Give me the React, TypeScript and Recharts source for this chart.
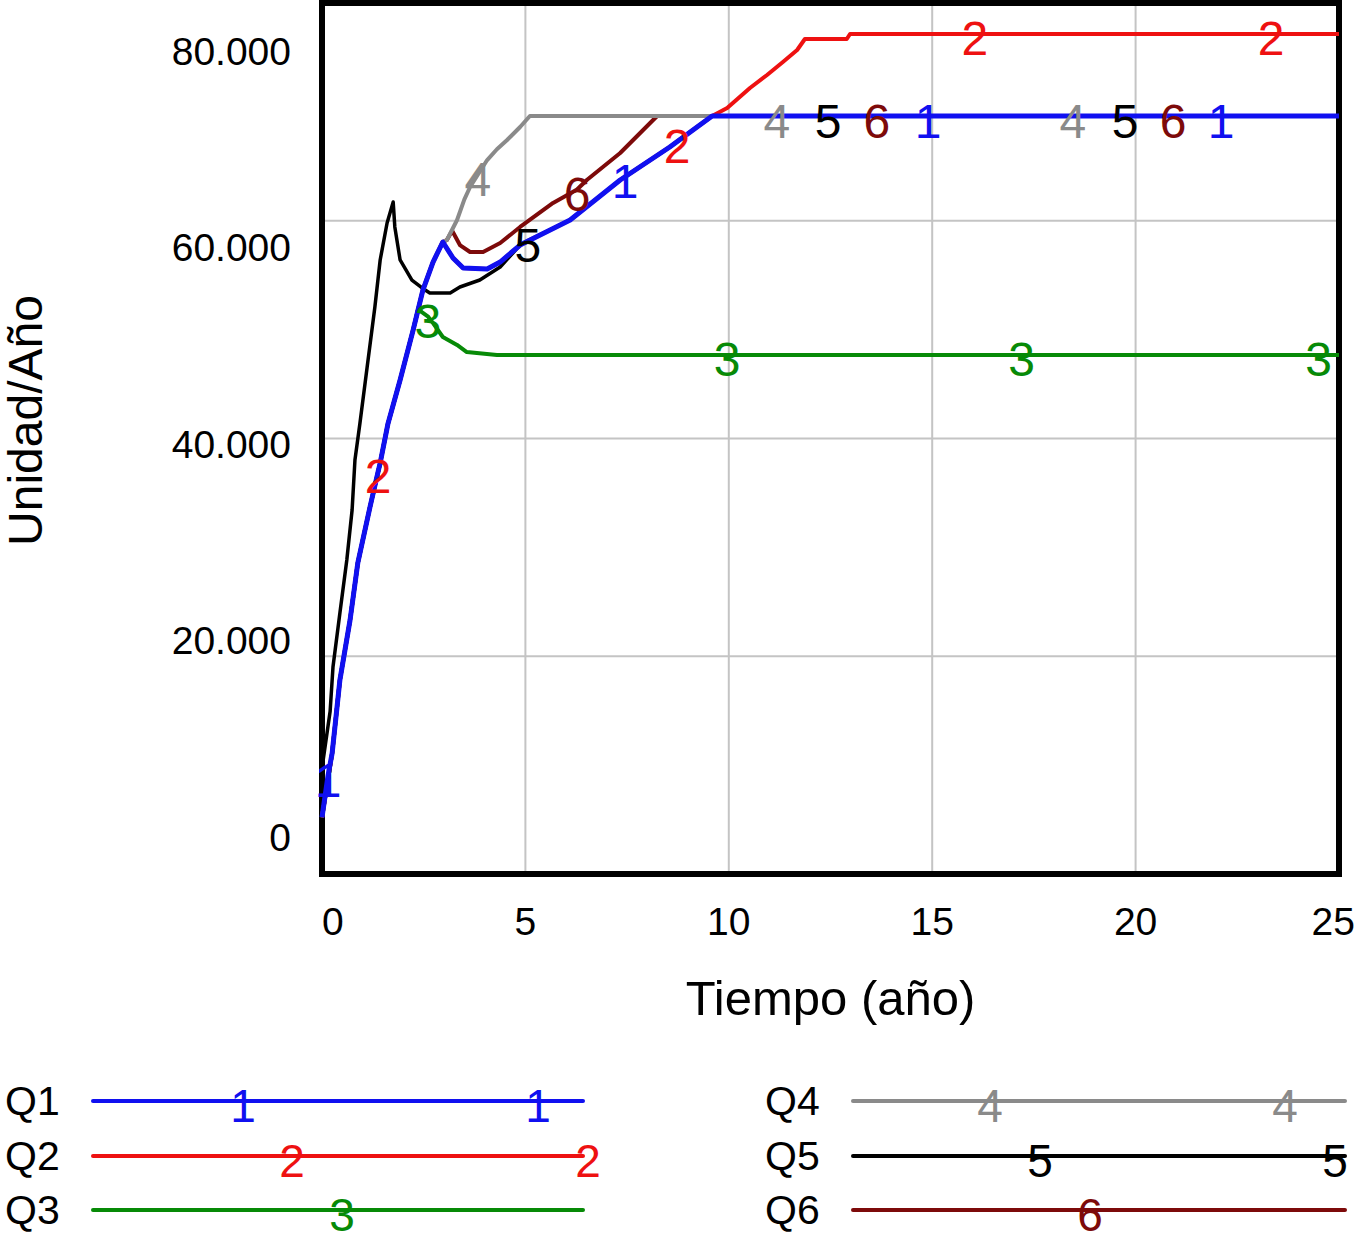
import { CartesianGrid, Legend, Line, LineChart, ReferenceArea, XAxis, YAxis } from 'recharts';

const FONT = '"Liberation Sans", Arial, Helvetica, sans-serif';

// tiempo (año), Unidad/Año
const q1: [number, number][] = [
  [0, 2000], [0.15, 6300], [0.25, 8550], [0.44, 15980], [0.69, 22090], [0.88, 27890],
  [1.18, 33590], [1.38, 37200], [1.43, 38070], [1.62, 42040], [1.92, 46510], [2.24, 51600],
  [2.48, 55670], [2.73, 58520], [2.97, 60560], [3.22, 58930], [3.47, 57910], [4.06, 57810],
  [4.38, 58520], [4.87, 60250], [6.1, 62800], [7.33, 66870], [7.45, 67200], [8.55, 70230],
  [9.59, 73380], [14.9, 73380], [22.1, 73380], [25, 73380],
];
const q2: [number, number][] = [
  [0, 2000], [0.25, 8550], [0.44, 15980], [0.69, 22090], [0.88, 27890], [1.18, 33590],
  [1.38, 37200], [1.43, 38070], [1.62, 42040], [1.92, 46510], [2.24, 51600], [2.48, 55670],
  [2.73, 58520], [2.97, 60560], [3.22, 58930], [3.47, 57910], [4.06, 57810], [4.38, 58520],
  [4.87, 60250], [6.1, 62800], [7.33, 66870], [8.55, 70230], [8.73, 70800], [9.59, 73380],
  [9.96, 74200], [10.52, 76230], [10.94, 77560], [11.33, 78880], [11.68, 80100], [11.87, 81220],
  [12.9, 81220], [12.98, 81730], [16.05, 81730], [23.33, 81730], [25, 81730],
];
const q3: [number, number][] = [
  [0, 2000], [0.25, 8550], [0.44, 15980], [0.69, 22090], [0.88, 27890], [1.18, 33590],
  [1.43, 38070], [1.62, 42040], [1.92, 46510], [2.24, 51600], [2.36, 53700], [2.6, 53000],
  [2.73, 52300], [2.97, 50890], [3.32, 50080], [3.56, 49360], [4.3, 49060], [9.96, 49060],
  [17.2, 49060], [24.5, 49060], [25, 49060],
];
const q4: [number, number][] = [
  [0, 2000], [0.25, 8550], [0.44, 15980], [0.69, 22090], [0.88, 27890], [1.18, 33590],
  [1.43, 38070], [1.62, 42040], [1.92, 46510], [2.24, 51600], [2.48, 55670], [2.73, 58520],
  [2.97, 60560], [3.07, 60760], [3.32, 62800], [3.5, 64900], [3.64, 66160], [3.83, 67400],
  [4.06, 68900], [4.3, 70000], [4.55, 70940], [4.87, 72260], [5.11, 73380], [11.18, 73380],
  [18.46, 73380], [25, 73380],
];
const q5: [number, number][] = [
  [0, 7000], [0.2, 12800], [0.27, 17300], [0.44, 22800], [0.61, 28190], [0.74, 33280],
  [0.81, 38370], [0.93, 42030], [1.11, 47840], [1.3, 53940], [1.43, 58730], [1.6, 62490],
  [1.75, 64630], [1.79, 62090], [1.92, 58730], [2.21, 56690], [2.46, 55880], [2.65, 55370],
  [3.15, 55370], [3.39, 55980], [3.88, 56690], [4.38, 58010], [4.87, 60250], [5.06, 60700],
  [6.1, 62800], [7.33, 66870], [8.55, 70230], [9.59, 73380], [12.44, 73380], [19.74, 73380],
  [25, 73380],
];
const q6: [number, number][] = [
  [0, 2000], [0.25, 8550], [0.44, 15980], [0.69, 22090], [0.88, 27890], [1.18, 33590],
  [1.43, 38070], [1.62, 42040], [1.92, 46510], [2.24, 51600], [2.48, 55670], [2.73, 58520],
  [2.97, 60560], [3.07, 60760], [3.2, 61700], [3.39, 60250], [3.64, 59540], [3.96, 59540],
  [4.38, 60460], [4.87, 62090], [5.68, 64530], [6.27, 65900], [6.51, 66870], [7.33, 69620],
  [8.14, 72980], [8.24, 73380], [13.64, 73380], [20.92, 73380], [25, 73380],
];

// where the number markers sit on each line
const q1Marks = [0.15, 7.45, 14.9, 22.1];
const q2Marks = [1.38, 8.73, 16.05, 23.33];
const q3Marks = [2.6, 9.96, 17.2, 24.5];
const q4Marks = [3.83, 11.18, 18.46];
const q5Marks = [5.06, 12.44, 19.74];
const q6Marks = [6.27, 13.64, 20.92];

const xTicks = [0, 5, 10, 15, 20, 25];
const yTicks = [0, 20000, 40000, 60000, 80000];
const Y_MIN = -3766;
const Y_MAX = 84885;
const gridY = [1, 2, 3].map((k) => Y_MIN + (k * (Y_MAX - Y_MIN)) / 4);
const gridX = [5, 10, 15, 20];

const series = [
  { name: 'Q1', label: '1', data: q1, marks: q1Marks, color: '#1010f0', width: 5 },
  { name: 'Q2', label: '2', data: q2, marks: q2Marks, color: '#ee1111', width: 4 },
  { name: 'Q3', label: '3', data: q3, marks: q3Marks, color: '#078a07', width: 4 },
  { name: 'Q4', label: '4', data: q4, marks: q4Marks, color: '#8a8a8a', width: 4 },
  { name: 'Q5', label: '5', data: q5, marks: q5Marks, color: '#000000', width: 3.5 },
  { name: 'Q6', label: '6', data: q6, marks: q6Marks, color: '#7d0a0a', width: 4 },
];

// legend layout: two columns of three rows, marker x positions along each sample line
const legendMarks = [[243, 538], [292, 588], [342], [990, 1285], [1040, 1335], [1090]];

const fmt = (v: number) => v.toLocaleString('de-DE');

const markerDot = (marks: number[], label: string, color: string) => (p: any) => {
  const key = `${label}-${p.index}`;
  if (!p.payload || !marks.includes(p.payload.t)) return <g key={key} />;
  return (
    <text key={key} x={p.cx} y={p.cy + 5} textAnchor="middle" dominantBaseline="central"
      fill={color} fontSize={48} fontFamily={FONT}>
      {label}
    </text>
  );
};

// first and last x labels are pulled inside the frame, as in the original
const XTick = (p: any) => {
  const v = p.payload.value;
  const first = v === xTicks[0];
  const last = v === xTicks[xTicks.length - 1];
  return (
    <text x={p.x + (last ? 16 : 0)} y={p.y} dy="0.71em"
      textAnchor={first ? 'start' : last ? 'end' : 'middle'}
      fill="#000" fontSize={39} fontFamily={FONT}>
      {v}
    </text>
  );
};

const LegendBox = () => (
  <svg width={1359} height={193} style={{ display: 'block', overflow: 'visible' }}>
    {series.map((s, i) => {
      const col = i < 3 ? 0 : 1;
      const y = [51, 106, 160][i % 3];
      const tx = col === 0 ? 5 : 765;
      const x1 = col === 0 ? 93 : 853;
      const x2 = col === 0 ? 583 : 1345;
      return (
        <g key={s.name}>
          <text x={tx} y={y} dominantBaseline="central" fontSize={41} fontFamily={FONT} fill="#000">
            {s.name}
          </text>
          <line x1={x1} x2={x2} y1={y} y2={y} stroke={s.color} strokeWidth={4} strokeLinecap="round" />
          {legendMarks[i].map((mx) => (
            <text key={mx} x={mx} y={y + 5} textAnchor="middle" dominantBaseline="central"
              fontSize={46} fontFamily={FONT} fill={s.color}>
              {s.label}
            </text>
          ))}
        </g>
      );
    })}
  </svg>
);

export default function App() {
  return (
    <div style={{ position: 'absolute', left: 0, top: 0, width: 1359, height: 1243, background: '#fff', fontFamily: FONT }}>
      <LineChart width={1359} height={1243} margin={{ top: 3, right: 20, bottom: 0, left: 0 }}>
        <CartesianGrid horizontalValues={gridY} verticalValues={gridX} stroke="#c4c4c4" strokeWidth={2} />
        <XAxis
          dataKey="t"
          type="number"
          domain={[0, 25]}
          ticks={xTicks}
          height={176}
          tickLine={false}
          axisLine={false}
          tickSize={0}
          tickMargin={33}
          tick={<XTick />}
          label={{
            content: (p: any) => (
              <text x={p.viewBox.x + p.viewBox.width / 2} y={p.viewBox.y + 141} textAnchor="middle"
                fontSize={49} fontFamily={FONT} fill="#000">
                Tiempo (año)
              </text>
            ),
          }}
        />
        <YAxis
          type="number"
          domain={[Y_MIN, Y_MAX]}
          ticks={yTicks}
          width={322}
          tickLine={false}
          axisLine={false}
          tickSize={0}
          tickMargin={31}
          tickFormatter={fmt}
          tick={{ fill: '#000', fontSize: 39, fontFamily: FONT }}
          label={{
            content: (p: any) => {
              const cy = p.viewBox.y + p.viewBox.height / 2 - 18;
              return (
                <text x={42} y={cy} transform={`rotate(-90 42 ${cy})`} textAnchor="middle"
                  fontSize={48} fontFamily={FONT} fill="#000">
                  Unidad/Año
                </text>
              );
            },
          }}
        />
        {[...series].reverse().map((s) => (
          <Line
            key={s.name}
            name={s.name}
            data={s.data.map(([t, v]) => ({ t, v }))}
            dataKey="v"
            type="linear"
            stroke={s.color}
            strokeWidth={s.width}
            strokeLinejoin="round"
            dot={markerDot(s.marks, s.label, s.color)}
            activeDot={false}
            isAnimationActive={false}
          />
        ))}
        <ReferenceArea x1={0} x2={25} y1={Y_MIN} y2={Y_MAX} fill="none" stroke="#000" strokeWidth={6} ifOverflow="visible" />
        <Legend verticalAlign="bottom" align="left" content={() => <LegendBox />} />
      </LineChart>
    </div>
  );
}
